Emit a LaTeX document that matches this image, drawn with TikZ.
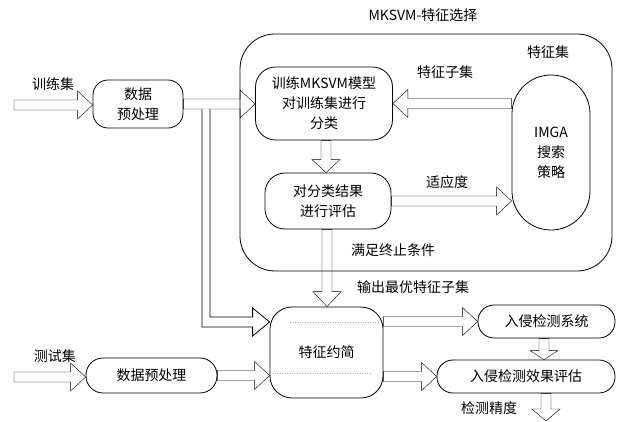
\documentclass[tikz,border=0pt]{standalone}
\usepackage{fontspec}
\setmainfont{Noto Sans CJK SC}
\usetikzlibrary{calc}
\tikzset{
  ahl/.store in=\ahl, ahl=15,
  ahw/.store in=\ahw, ahw=14,
  asw/.store in=\asw, asw=5,
  hollow/.style={draw, line width=0.8pt, fill=white, line join=miter},
  rarrow/.style={hollow, to path={let \p1=(\tikztostart), \p2=(\tikztotarget) in
     (\x1,\y1+\asw pt) -- (\x2-\ahl pt,\y1+\asw pt) -- (\x2-\ahl pt,\y1+\ahw pt) -- (\x2,\y1)
     -- (\x2-\ahl pt,\y1-\ahw pt) -- (\x2-\ahl pt,\y1-\asw pt) -- (\x1,\y1-\asw pt) -- cycle}},
  larrow/.style={hollow, to path={let \p1=(\tikztostart), \p2=(\tikztotarget) in
     (\x1,\y1+\asw pt) -- (\x2+\ahl pt,\y1+\asw pt) -- (\x2+\ahl pt,\y1+\ahw pt) -- (\x2,\y1)
     -- (\x2+\ahl pt,\y1-\ahw pt) -- (\x2+\ahl pt,\y1-\asw pt) -- (\x1,\y1-\asw pt) -- cycle}},
  darrow/.style={hollow, to path={let \p1=(\tikztostart), \p2=(\tikztotarget) in
     (\x1+\asw pt,\y1) -- (\x1+\asw pt,\y2+\ahl pt) -- (\x1+\ahw pt,\y2+\ahl pt) -- (\x1,\y2)
     -- (\x1-\ahw pt,\y2+\ahl pt) -- (\x1-\asw pt,\y2+\ahl pt) -- (\x1-\asw pt,\y1) -- cycle}},
  box/.style={draw, line width=0.8pt, fill=white, align=center, inner sep=0pt, font=\fontsize{14}{20}\selectfont},
  lbl/.style={inner sep=0pt, font=\fontsize{14}{18}\selectfont},
}
\begin{document}
\begin{tikzpicture}[x=1pt, y=-1pt]
\useasboundingbox (0,0) rectangle (625,422);
% big frame
\node[box, minimum width=372pt, minimum height=237pt, rounded corners=35pt] (fs) at (426,152.5) {};
\node[lbl] (title) at (423,15) {MKSVM-特征选择};
\node[lbl] (fslbl) at (548,52) {特征集};
% nodes
\node[box, minimum width=90pt, minimum height=48pt, rounded corners=15pt] (pre1) at (138,104) {数据\\预处理};
\node[box, minimum width=137pt, minimum height=73pt, rounded corners=20pt] (box1) at (324,103.5) {训练MKSVM模型\\对训练集进行\\分类};
\node[box, minimum width=126pt, minimum height=56pt, rounded corners=20pt] (box2) at (328,201) {对分类结果\\进行评估};
\node[box, minimum width=78pt, minimum height=155pt, rounded corners=38.9pt] (imga) at (551,152.5) {IMGA\\搜索\\策略};
\node[box, minimum width=113pt, minimum height=91pt, rounded corners=22pt] (red) at (326.5,352.5) {特征约简};
\node[box, minimum width=137pt, minimum height=33pt, rounded corners=16pt] (ids) at (546.5,321.5) {入侵检测系统};
\node[box, minimum width=178pt, minimum height=33pt, rounded corners=16pt] (eval) at (526,376.5) {入侵检测效果评估};
\node[box, minimum width=131pt, minimum height=35pt, rounded corners=17pt] (pre2) at (151.5,375.5) {数据预处理};
% faint dotted marks in the reduction box
\draw[gray!60, dotted, line width=0.5pt] (290,322) -- (378,322);
\draw[gray!60, dotted, line width=0.5pt] (272,373) -- (370,373);
% labels
\node[lbl] (ltrain) at (53,84) {训练集};
\node[lbl] (ltest) at (55,356) {测试集};
\node[lbl] (lsub) at (445,72) {特征子集};
\node[lbl] (lfit) at (447,182) {适应度};
\node[lbl] (lstop) at (393,250) {满足终止条件};
\node[lbl] (lout) at (413,287) {输出最优特征子集};
\node[lbl] (lacc) at (489,408) {检测精度};
% free ends
\coordinate (in1) at (14,105);
\coordinate (in2) at (14,377);
\coordinate (out) at (546.5,421);
\coordinate (ebx) at (206,0);
\coordinate (ey) at (0,322);
\coordinate (etip) at (red.west |- ey);
% arrows
\draw (in1) to[rarrow] (in1 -| pre1.west);
\draw (pre1.east) to[rarrow] (box1.west |- pre1.east);
\draw (box1.south -| 326,0) to[darrow, ahl=13] (box2.north -| 326,0);
\draw (imga.west |- box1.east) to[larrow] (box1.east);
\draw (box2.east) to[rarrow] (box2.east -| imga.west);
\draw (box2.south -| 327,0) to[darrow] (red.north -| 327,0);
\draw (red.east |- ids.west) to[rarrow] (ids.west);
\draw (red.east |- eval.west) to[rarrow] (eval.west);
\draw (ids.south -| 544,0) to[darrow, ahl=9] (eval.north -| 544,0);
\draw (eval.south -| 546,0) to[darrow, ahl=12] (out -| 546,0);
\draw (in2) to[rarrow] (in2 -| pre2.west);
\draw (pre2.east) to[rarrow] (pre2.east -| red.west);
% elbow branch from the pre-processing output to the reduction box
\draw[hollow] ($(pre1.east -| ebx)+(-4,5)$) |- ($(etip)+(-17,5)$) -- ++(0,9) -- (etip)
  -- ($(etip)+(-17,-14)$) -- ++(0,9) -| ($(pre1.east -| ebx)+(4,5)$);
\end{tikzpicture}
\end{document}
